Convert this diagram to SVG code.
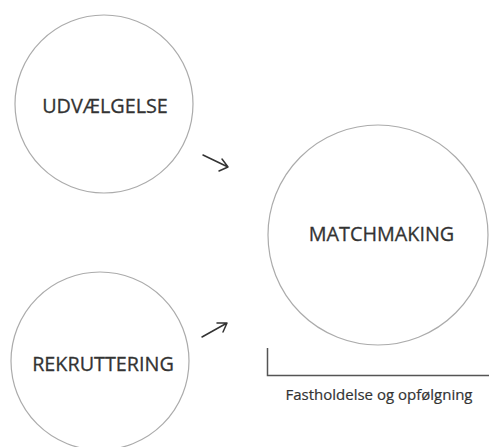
<svg xmlns="http://www.w3.org/2000/svg" width="489" height="447" viewBox="0 0 489 447">
<style>
.node circle{fill:none;stroke:#ababab;stroke-width:1.2}
.lbl{font-family:"Open Sans","Noto Sans",sans-serif;fill:#333;stroke:#333;stroke-width:0.3;text-anchor:middle}
.big{font-size:19.8px}
.small{font-size:15px;stroke-width:0.2}
.arr{fill:none;stroke:#333;stroke-width:1.5;stroke-linecap:round;stroke-linejoin:round}
.br{fill:none;stroke:#555;stroke-width:1.5}
</style>
<rect width="489" height="447" fill="#fff"/>
<g id="udvaelgelse" class="node">
<circle cx="104" cy="104" r="89"/>
<text class="lbl big" x="105" y="113">UDVÆLGELSE</text>
</g>
<g id="rekruttering" class="node">
<circle cx="100" cy="361" r="89"/>
<text class="lbl big" x="103" y="371">REKRUTTERING</text>
</g>
<g id="matchmaking" class="node">
<circle cx="378" cy="235" r="110"/>
<text class="lbl big" x="381.5" y="241">MATCHMAKING</text>
</g>
<g id="fastholdelse">
<path class="br" d="M267.5,348 V375.5 H489"/>
<text class="lbl small" x="379" y="400">Fastholdelse og opfølgning</text>
</g>
<g id="connectors">
<path class="arr" d="M203,155 L228,167 M222,159 L228,167 L219,171"/>
<path class="arr" d="M202,337 L227,323 M217,323 L227,323 L223,332"/>
</g>
</svg>
